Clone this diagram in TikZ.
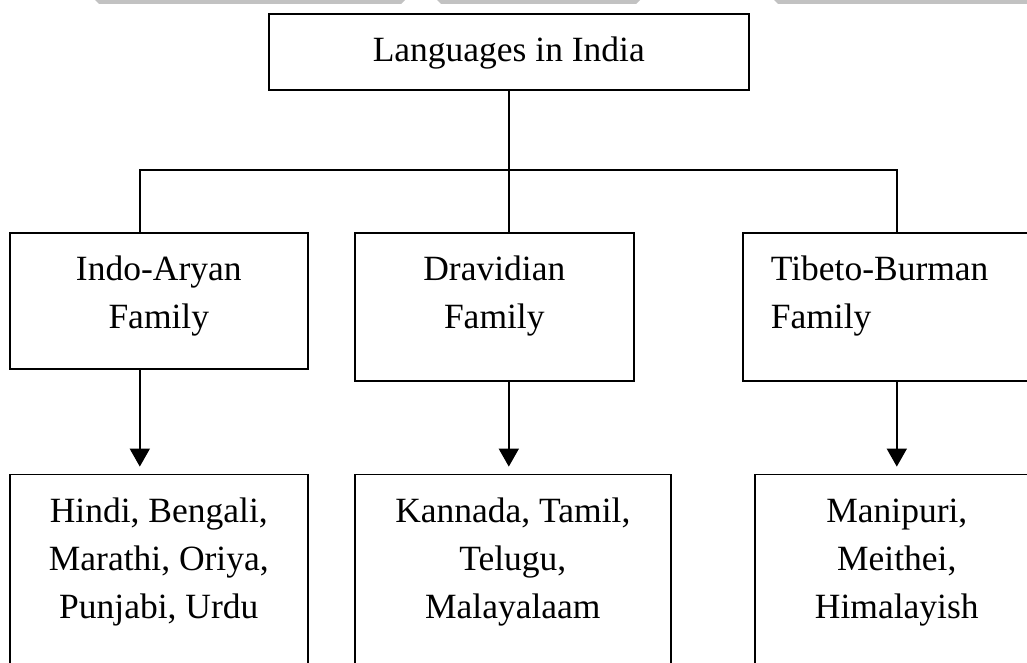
\documentclass[tikz,border=0pt]{standalone}
\usepackage{fontspec}
\setmainfont{Liberation Serif}
\usetikzlibrary{positioning,arrows.meta}
\tikzset{
box/.style={draw, line width=1.6pt, inner sep=0pt, anchor=north west,
  font=\fontsize{35.5}{48}\selectfont},
link/.style={line width=1.6pt},
arr/.style={link, -{Triangle[width=20pt,length=18pt]}, shorten >=7pt},
wmark/.style={fill=black!24},
}

\begin{document}
\begin{tikzpicture}
        [x=1pt, y=-1pt]
        \useasboundingbox (0,0) rectangle (1027,663);
        \clip (0,0) rectangle (1027,663);

        % faint marks along the top edge
        \fill[wmark] (95,0) -- (405,0) -- (401,4) -- (99,4) -- cycle;
        \fill[wmark] (437,0) -- (640,0) -- (636,4) -- (441,4) -- cycle;
        \fill[wmark] (774,0) -- (1027,0) -- (1027,4) -- (778,4) -- cycle;

        \node [box] (lang) at (268,13)
        {\parbox[c][76pt][t]{480pt}{\centering\rule{0pt}{48pt}Languages in India}};

        \node [box] (ia) at (9,232)
        {\parbox[c][136pt][t]{298pt}{\centering\rule{0pt}{48pt}Indo-Aryan\\Family}};

        \node [box] (dr) at (354,232)
        {\parbox[c][148pt][t]{279pt}{\centering\rule{0pt}{48pt}Dravidian\\Family}};

        \node [box] (tb) at (742,232)
        {\parbox[c][148pt][t]{308pt}{\raggedright\rule{0pt}{48pt}\hspace*{28pt}Tibeto-Burman\\\hspace*{28pt}Family}};

        \node [box, below=104pt of ia] (hb)
        {\parbox[c][220pt][t]{298pt}{\centering\rule{0pt}{48pt}Hindi, Bengali,\\Marathi, Oriya,\\Punjabi, Urdu}};

        \node [box, below right=92pt and 0pt of dr.south west] (kt)
        {\parbox[c][220pt][t]{316pt}{\centering\rule{0pt}{48pt}Kannada, Tamil,\\Telugu,\\Malayalaam}};

        \node [box, below right=92pt and 12pt of tb.south west] (mp)
        {\parbox[c][220pt][t]{284pt}{\centering\rule{0pt}{48pt}Manipuri,\\Meithei,\\Himalayish}};

        \coordinate (bar) at (lang.south |- 0,170);
        \draw[link] (lang.south) -- (bar);
        \draw[link] (bar) -| ([xshift=-19pt]ia.north);
        \draw[link] (bar) -- (bar |- dr.north);
        \draw[link] (bar) -| (tb.north);

        \draw[arr] ([xshift=-19pt]ia.south) -- ([xshift=-19pt]hb.north);
        \draw[arr] (bar |- dr.south) -- (bar |- kt.north);
        \draw[arr] (tb.south) -- (mp.north);
    \end{tikzpicture}
\end{document}
